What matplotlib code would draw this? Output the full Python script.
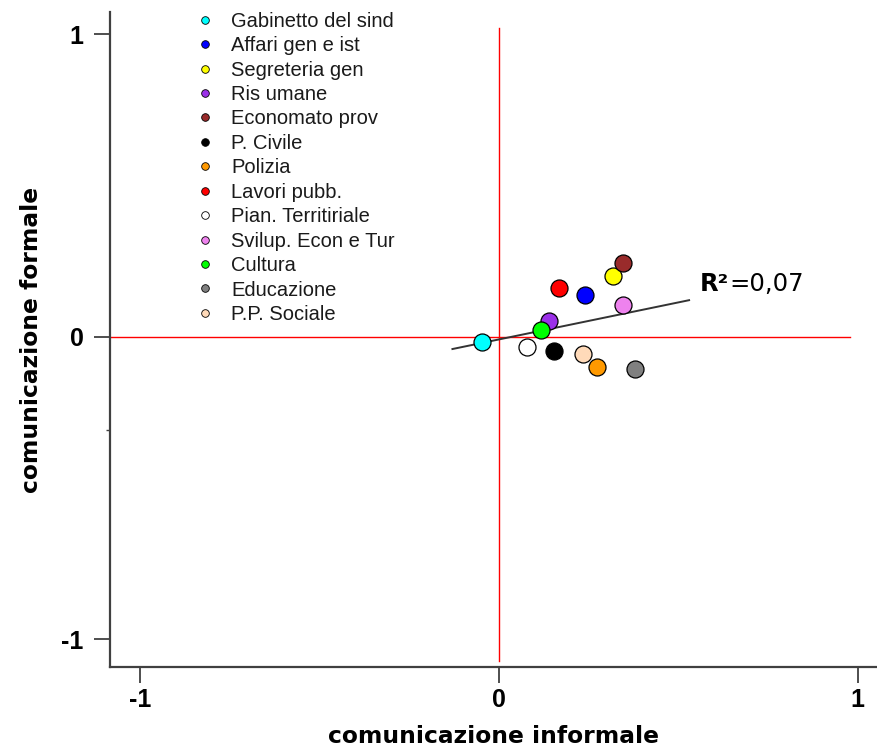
import numpy as np
import matplotlib
matplotlib.use("Agg")
import matplotlib.pyplot as plt

# settori e coordinate
settori = ["Gabinetto del sind", "Affari gen e ist", "Segreteria gen", "Ris umane",
           "Economato prov", "P. Civile", "Polizia", "Lavori pubb.",
           "Pian. Territiriale", "Svilup. Econ e Tur", "Cultura", "Educazione",
           "P.P. Sociale"]
informale = [-0.047, 0.240, 0.318, 0.139, 0.347, 0.153, 0.274, 0.167, 0.079, 0.347, 0.116, 0.379, 0.235]
formale = [-0.017, 0.138, 0.201, 0.053, 0.243, -0.047, -0.101, 0.163, -0.033, 0.105, 0.022, -0.107, -0.055]
colori = ["#00FFFF", "#0000FF", "#FFFF00", "#9B30E8", "#992B2B", "#000000", "#FF9900",
          "#FF0000", "#FFFFFF", "#EE82EE", "#00FF00", "#808080", "#FFDAB9"]
retta_x = [-0.13, 0.53]   # estensione della retta di regressione
r2_label = "0,07"
ticks = [-1, 0, 1]

plt.rcParams['font.family'] = ['Liberation Sans', 'DejaVu Sans']

fig = plt.figure(figsize=(8.77, 7.51), dpi=100)
ax = fig.add_axes([0.1254, 0.1119, 0.8746, 0.8721])
ax.set_xlim(-1.085, 1.054)
ax.set_ylim(-1.091, 1.074)

# assi rossi
ax.plot([-1.085, 0.98], [0, 0], color="red", lw=1, zorder=1)
ax.plot([0, 0], [-1.07, 1.02], color="red", lw=1, zorder=1)

# retta di regressione
b, a = np.polyfit(informale, formale, 1)
xs = np.array(retta_x)
ax.plot(xs, a + b * xs, color="#333333", lw=1.4, zorder=2)

for nome, x, y, c in zip(settori, informale, formale, colori):
    ax.scatter(x, y, s=150, color=c, edgecolor="black", linewidth=0.9, zorder=3)
    ax.plot([], [], "o", ms=5.5, color=c, mec="black", mew=0.6, label=nome)

leg = ax.legend(loc="upper left", bbox_to_anchor=(0.098, 1.022), frameon=False,
                fontsize=14.5, handlelength=0.6, handletextpad=1.0, labelspacing=0.27,
                borderaxespad=0.3)
for t in leg.get_texts():
    t.set_color("#1a1a1a")

t1 = ax.text(0.56, 0.175, "R²", fontsize=17.5, fontweight="bold", va="center", ha="left",
             family="DejaVu Sans")
ax.annotate("=" + r2_label, xy=(1, 0.5), xycoords=t1, va="center", ha="left", fontsize=17.5,
            family="DejaVu Sans")

for s in ["top", "right"]:
    ax.spines[s].set_visible(False)
for s in ["left", "bottom"]:
    ax.spines[s].set_color("#404040")
    ax.spines[s].set_linewidth(1.6)

ax.set_xticks(ticks)
ax.set_yticks(ticks)
ax.set_xticklabels([str(t) for t in ticks], fontsize=18, fontweight="bold")
ax.set_yticklabels([str(t) for t in ticks], fontsize=18, fontweight="bold")
ax.tick_params(length=11.5, width=1.3, color="#404040")
ax.tick_params(axis="x", pad=4)
ax.tick_params(axis="y", pad=7.5)
ax.set_yticks([-0.307], minor=True)
ax.tick_params(axis="y", which="minor", length=3, width=1, color="#404040")

ax.set_xlabel("comunicazione informale", fontsize=16.8, fontweight="bold",
              family="DejaVu Sans", labelpad=9)
ax.set_ylabel("comunicazione formale", fontsize=16.8, fontweight="bold",
              family="DejaVu Sans", labelpad=13)

fig.savefig("out.png", dpi=100)
